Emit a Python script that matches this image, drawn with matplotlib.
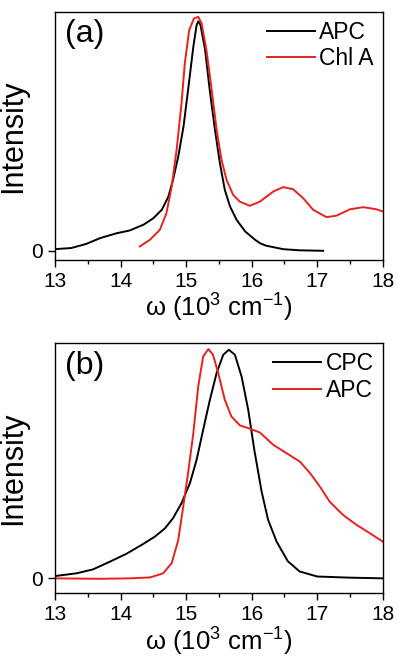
import matplotlib
matplotlib.use("Agg")
import matplotlib.pyplot as plt
from matplotlib.ticker import MultipleLocator

plt.rcParams['font.family'] = ['Liberation Sans', 'DejaVu Sans']
plt.rcParams['mathtext.fontset'] = 'custom'
plt.rcParams['mathtext.rm'] = 'Liberation Sans'

RED = '#e8211d'

# panel (a)
apc_a_x = [13.0, 13.25, 13.48, 13.69, 13.94, 14.14, 14.35, 14.5, 14.63, 14.73, 14.8, 14.88,
           14.96, 15.03, 15.11, 15.16, 15.185, 15.22, 15.29, 15.36, 15.44, 15.515, 15.59,
           15.67, 15.77, 15.9, 16.05, 16.125, 16.22, 16.48, 16.73, 17.09]
apc_a_y = [0.007, 0.012, 0.03, 0.055, 0.076, 0.088, 0.113, 0.141, 0.178, 0.235, 0.307, 0.408,
           0.538, 0.697, 0.884, 0.978, 0.995, 0.978, 0.87, 0.697, 0.524, 0.38, 0.264,
           0.192, 0.134, 0.084, 0.048, 0.033, 0.022, 0.007, 0.002, 0.0]
chl_x = [14.296, 14.45, 14.6, 14.7, 14.78, 14.855, 14.93, 14.98, 15.047, 15.12, 15.185,
         15.236, 15.31, 15.39, 15.465, 15.54, 15.617, 15.718, 15.82, 15.97, 16.125, 16.33,
         16.48, 16.63, 16.785, 16.94, 17.14, 17.29, 17.5, 17.7, 17.9, 18.0]
chl_y = [0.019, 0.048, 0.091, 0.163, 0.278, 0.437, 0.639, 0.812, 0.957, 1.007, 1.014,
         0.986, 0.87, 0.697, 0.524, 0.394, 0.307, 0.242, 0.213, 0.195, 0.213, 0.257,
         0.276, 0.267, 0.228, 0.177, 0.146, 0.152, 0.18, 0.189, 0.18, 0.17]

# panel (b)
cpc_x = [13.0, 13.33, 13.58, 13.84, 14.09, 14.346, 14.524, 14.677, 14.8, 14.93, 15.058,
         15.16, 15.26, 15.363, 15.465, 15.566, 15.652, 15.744, 15.846, 15.947, 16.04, 16.15,
         16.25, 16.38, 16.55, 16.73, 17.0, 17.5, 18.0]
cpc_y = [0.01, 0.022, 0.039, 0.073, 0.107, 0.15, 0.182, 0.218, 0.262, 0.328, 0.415,
         0.517, 0.648, 0.779, 0.895, 0.975, 0.997, 0.975, 0.88, 0.735, 0.56, 0.38,
         0.255, 0.16, 0.075, 0.03, 0.008, 0.003, 0.0]
apc_b_x = [13.0, 13.69, 14.14, 14.45, 14.65, 14.78, 14.88, 14.956, 15.03, 15.11, 15.185,
           15.26, 15.34, 15.41, 15.49, 15.59, 15.69, 15.82, 15.97, 16.125, 16.33, 16.53,
           16.735, 16.89, 17.04, 17.19, 17.395, 17.6, 17.8, 18.0]
apc_b_y = [0.0, -0.002, 0.0, 0.004, 0.022, 0.066, 0.167, 0.313, 0.459, 0.633, 0.837,
           0.968, 1.0, 0.975, 0.895, 0.779, 0.706, 0.667, 0.653, 0.636, 0.582, 0.546,
           0.509, 0.459, 0.40, 0.334, 0.276, 0.233, 0.197, 0.16]

xticks = [13, 14, 15, 16, 17, 18]
xlabel = '\u03c9 (10$^3$ cm$^{-1}$)'

fig = plt.figure(figsize=(3.98, 6.56), dpi=100)
ax1 = fig.add_axes([0.138, 0.604, 0.824, 0.378])
ax2 = fig.add_axes([0.138, 0.096, 0.824, 0.381])

ax1.plot(apc_a_x, apc_a_y, color='black', lw=1.4, label='APC')
ax1.plot(chl_x, chl_y, color=RED, lw=1.4, label='Chl A')
ax1.set_ylim(-0.039, 1.036)
ax1.text(0.03, 0.97, '(a)', transform=ax1.transAxes, fontsize=23, va='top', ha='left')

ax2.plot(cpc_x, cpc_y, color='black', lw=1.4, label='CPC')
ax2.plot(apc_b_x, apc_b_y, color=RED, lw=1.4, label='APC')
ax2.set_ylim(-0.064, 1.026)
ax2.text(0.03, 0.97, '(b)', transform=ax2.transAxes, fontsize=23, va='top', ha='left')

for ax in (ax1, ax2):
    ax.set_xlim(13, 18)
    ax.set_xticks(xticks)
    ax.xaxis.set_minor_locator(MultipleLocator(0.5))
    ax.set_yticks([0])
    ax.tick_params(axis='both', which='major', labelsize=15, length=5, width=1, direction='out')
    ax.tick_params(axis='x', which='minor', length=3, width=1, direction='out')
    ax.set_xlabel(xlabel, fontsize=18.5, labelpad=0)
    ax.set_ylabel('Intensity', fontsize=22, labelpad=2)
    for s in ax.spines.values():
        s.set_linewidth(1.0)
    ax.legend(loc='upper right', frameon=False, fontsize=16.5, handlelength=2.1,
              handletextpad=0.2, borderaxespad=0.0, labelspacing=0.15)

fig.savefig('out.png', dpi=100)
